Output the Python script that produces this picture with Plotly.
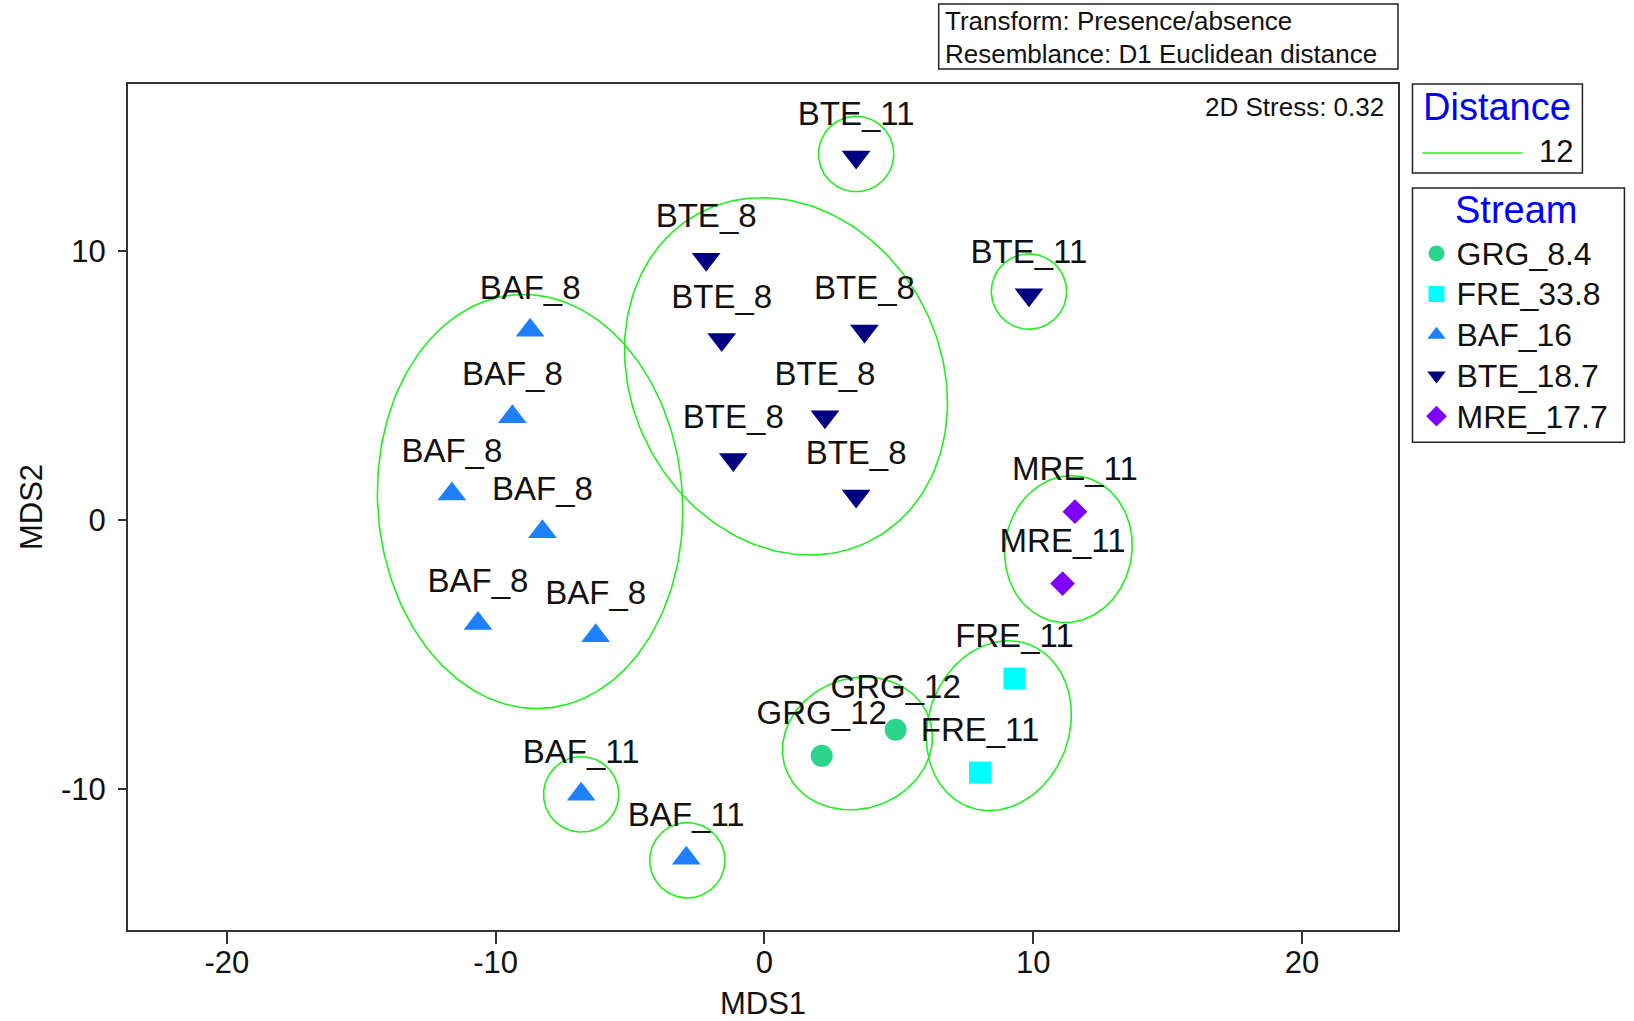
import numpy as np
import plotly.graph_objects as go

FONT = "Liberation Sans, Arial, sans-serif"

# ---- data (MDS coordinates) ----
series_names = ["GRG_8.4", "FRE_33.8", "BAF_16", "BTE_18.7", "MRE_17.7"]
series_colors = ["#2DD48E", "#00FFFF", "#1E80FF", "#000080", "#8000FF"]
series_symbols = ["circle", "square", "triangle-up", "triangle-down", "diamond"]
series_sizes = [22, 22, 25, 25, 19]

grg_x = [2.13, 4.88]
grg_y = [-8.76, -7.79]
grg_lab = ["GRG_12", "GRG_12"]

fre_x = [9.30, 8.02]
fre_y = [-5.89, -9.38]
fre_lab = ["FRE_11", "FRE_11"]

baf_x = [-8.72, -9.38, -11.63, -8.26, -10.66, -6.28, -6.82, -2.91]
baf_y = [7.05, 3.84, 0.97, -0.43, -3.84, -4.30, -10.19, -12.56]
baf_lab = ["BAF_8", "BAF_8", "BAF_8", "BAF_8", "BAF_8", "BAF_8", "BAF_11", "BAF_11"]

bte_x = [3.41, -2.17, -1.59, 3.72, 2.25, -1.16, 3.41, 9.84]
bte_y = [13.49, 9.69, 6.71, 7.02, 3.84, 2.25, 0.89, 8.37]
bte_lab = ["BTE_11", "BTE_8", "BTE_8", "BTE_8", "BTE_8", "BTE_8", "BTE_8", "BTE_11"]

mre_x = [11.55, 11.09]
mre_y = [0.31, -2.36]
mre_lab = ["MRE_11", "MRE_11"]

# cluster overlays at Euclidean distance 12 (centre, semi-axes, orientation in degrees)
ell_cx = [-8.72, 0.80, 3.41, 9.84, 11.31, 8.72, 3.46, -6.82, -2.87]
ell_cy = [0.69, 5.34, 13.60, 8.49, -1.08, -7.64, -8.30, -10.19, -12.64]
ell_a = [7.70, 6.87, 1.40, 1.40, 2.74, 3.22, 2.83, 1.40, 1.40]
ell_b = [5.67, 5.74, 1.40, 1.40, 2.36, 2.62, 2.42, 1.40, 1.40]
ell_ang = [94, 118, 0, 0, 80, 70, 19, 0, 0]

x_ticks = [-20, -10, 0, 10, 20]
y_ticks = [-10, 0, 10]

xs = [grg_x, fre_x, baf_x, bte_x, mre_x]
ys = [grg_y, fre_y, baf_y, bte_y, mre_y]
labs = [grg_lab, fre_lab, baf_lab, bte_lab, mre_lab]

fig = go.Figure()

# ellipses
ex, ey = [], []
t = np.linspace(0, 2 * np.pi, 240)
for cx, cy, a, b, ang in zip(ell_cx, ell_cy, ell_a, ell_b, ell_ang):
    th = np.deg2rad(ang)
    px = a * np.cos(t)
    py = b * np.sin(t)
    ex += list(cx + px * np.cos(th) - py * np.sin(th)) + [None]
    ey += list(cy + px * np.sin(th) + py * np.cos(th)) + [None]
fig.add_trace(go.Scatter(x=ex, y=ey, mode="lines", line=dict(color="#22EE22", width=1.6),
                         showlegend=False, hoverinfo="skip"))

# point labels (transparent carrier markers give the label offset)
for x, y, lab in zip(xs, ys, labs):
    fig.add_trace(go.Scatter(
        x=x, y=y, mode="markers+text", text=lab, textposition="top center",
        textfont=dict(size=33, color="#111111", family=FONT),
        marker=dict(size=36, opacity=0), showlegend=False, hoverinfo="skip",
    ))

for name, col, sym, sz, x, y in zip(series_names, series_colors, series_symbols,
                                     series_sizes, xs, ys):
    fig.add_trace(go.Scatter(
        x=x, y=y, mode="markers",
        name='<span style="font-size:32px">' + name + "</span>",
        marker=dict(symbol=sym, size=sz, color=col, line=dict(width=0)),
    ))

W, H = 1634, 1021
L, T = 128, 84
R = W - 1398.5
B = H - 929.6
pw, ph = W - L - R, H - T - B


def px2x(p):
    return (p - L) / pw


def px2y(p):
    return (H - B - p) / ph


BOX = "#222222"
shapes = [
    # Transform box
    dict(type="rect", xref="paper", yref="paper", x0=px2x(939), x1=px2x(1398.5),
         y0=px2y(69), y1=px2y(4), line=dict(color=BOX, width=1.5), fillcolor="white"),
    # Distance box
    dict(type="rect", xref="paper", yref="paper", x0=px2x(1413), x1=px2x(1583),
         y0=px2y(173), y1=px2y(84), line=dict(color=BOX, width=1.5), fillcolor="white"),
    dict(type="line", xref="paper", yref="paper", x0=px2x(1423), x1=px2x(1523),
         y0=px2y(153), y1=px2y(153), line=dict(color="#22EE22", width=1.6)),
    # Stream box
    dict(type="rect", xref="paper", yref="paper", x0=px2x(1413), x1=px2x(1625),
         y0=px2y(442), y1=px2y(188), line=dict(color=BOX, width=1.5), fillcolor="white",
         layer="below"),
]

annotations = [
    dict(text="Transform: Presence/absence", xref="paper", yref="paper", x=px2x(943), y=px2y(21),
         xanchor="left", yanchor="middle", showarrow=False, font=dict(size=26, family=FONT, color="#111111")),
    dict(text="Resemblance: D1 Euclidean distance", xref="paper", yref="paper", x=px2x(943), y=px2y(54),
         xanchor="left", yanchor="middle", showarrow=False, font=dict(size=26, family=FONT, color="#111111")),
    dict(text="2D Stress: 0.32", xref="paper", yref="paper", x=px2x(1386), y=px2y(107),
         xanchor="right", yanchor="middle", showarrow=False, font=dict(size=26, family=FONT, color="#111111")),
    dict(text="Distance", xref="paper", yref="paper", x=px2x(1498), y=px2y(107),
         xanchor="center", yanchor="middle", showarrow=False, font=dict(size=38, family=FONT, color="#0000FF")),
    dict(text="12", xref="paper", yref="paper", x=px2x(1576), y=px2y(151),
         xanchor="right", yanchor="middle", showarrow=False, font=dict(size=31, family=FONT, color="#111111")),
    dict(text="Stream", xref="paper", yref="paper", x=px2x(1517), y=px2y(210),
         xanchor="center", yanchor="middle", showarrow=False, font=dict(size=38, family=FONT, color="#0000FF")),
]

fig.update_layout(
    width=W, height=H,
    margin=dict(l=L, r=R, t=T, b=B, autoexpand=False),
    plot_bgcolor="white", paper_bgcolor="white",
    font=dict(family=FONT, size=31, color="#111111"),
    shapes=shapes, annotations=annotations,
    showlegend=True,
    legend=dict(
        x=px2x(1417), y=px2y(228), xanchor="left", yanchor="top",
        borderwidth=0, bgcolor="rgba(0,0,0,0)",
        font=dict(size=29, family=FONT, color="#111111"),
        itemsizing="trace", tracegroupgap=0,
    ),
    xaxis=dict(range=[-23.68, 23.57], tickvals=x_ticks, ticktext=[str(v) for v in x_ticks],
               ticks="outside", ticklen=12, tickwidth=1.5,
               tickcolor="#333333", showgrid=False, zeroline=False, showline=True, mirror=True,
               linecolor="#333333", linewidth=2, tickfont=dict(size=31), ticklabelstandoff=-8,
               title=dict(text="MDS1", font=dict(size=31), standoff=15)),
    yaxis=dict(range=[-15.23, 16.2], tickvals=y_ticks, ticktext=[str(v) for v in y_ticks],
               ticks="outside", ticklen=8, tickwidth=1.5,
               tickcolor="#333333", showgrid=False, zeroline=False, showline=True, mirror=True,
               linecolor="#333333", linewidth=2, tickfont=dict(size=31), ticklabelstandoff=6,
               title=dict(text="MDS2", font=dict(size=31), standoff=9)),
)

fig.write_html("out.html", config={"displayModeBar": False},
               post_script="document.body.style.margin='0';")
